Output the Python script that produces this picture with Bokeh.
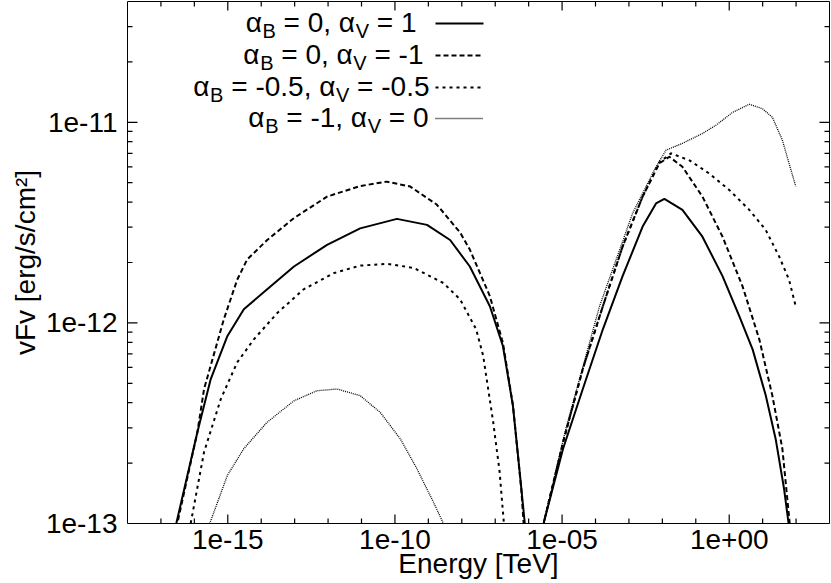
import math
from bokeh.plotting import figure
from bokeh.models import Label, Range1d, CustomJSTickFormatter, FixedTicker
from bokeh.embed import file_html
from bokeh.resources import INLINE

# ---------------- data ----------------
# alpha_B = 0, alpha_V = 1  (solid)
solid_low_e = [2.09e-17, 2.88e-17, 1.23e-16, 3.09e-16, 9.77e-16, 3.02e-15, 1.51e-14, 9.55e-14,
               9.33e-13, 9.12e-12, 1.15e-10, 9.12e-10, 4.47e-9, 1.74e-8, 6.92e-8, 1.70e-7,
               3.39e-7, 5.37e-7, 7.59e-7, 8.32e-7]
solid_low_f = [7.94e-14, 1.00e-13, 2.85e-13, 5.25e-13, 8.61e-13, 1.17e-12, 1.47e-12, 1.91e-12,
               2.45e-12, 2.96e-12, 3.30e-12, 3.08e-12, 2.59e-12, 1.91e-12, 1.21e-12, 7.67e-13,
               3.86e-13, 1.82e-13, 1.02e-13, 7.94e-14]
solid_high_e = [2.51e-6, 2.88e-6, 1.07e-5, 4.17e-5, 1.66e-4, 6.46e-4, 2.57e-3, 6.46e-3, 1.15e-2,
                3.98e-2, 0.158, 0.631, 2.00, 5.01, 12.3, 24.5, 43.7, 58.9, 63.1]
solid_high_f = [7.94e-14, 1.02e-13, 2.36e-13, 4.68e-13, 9.29e-13, 1.71e-12, 3.02e-12, 3.94e-12,
                4.15e-12, 3.66e-12, 2.69e-12, 1.71e-12, 1.08e-12, 7.38e-13, 4.37e-13, 2.64e-13,
                1.49e-13, 1.02e-13, 7.94e-14]

# alpha_B = 0, alpha_V = -1  (dashed)
dash_low_e = [2.24e-17, 3.09e-17, 1.23e-16, 1.95e-16, 7.59e-16, 1.91e-15, 3.80e-15, 1.51e-14,
              9.55e-14, 9.33e-13, 9.12e-12, 5.75e-11, 2.88e-10, 1.78e-9, 8.91e-9, 1.74e-8,
              6.92e-8, 1.70e-7, 3.39e-7, 6.03e-7, 7.08e-7, 7.59e-7]
dash_low_f = [7.94e-14, 1.00e-13, 2.85e-13, 4.68e-13, 1.04e-12, 1.64e-12, 2.07e-12, 2.59e-12,
              3.33e-12, 4.26e-12, 4.81e-12, 5.06e-12, 4.78e-12, 3.89e-12, 2.82e-12, 2.32e-12,
              1.36e-12, 7.94e-13, 3.89e-13, 1.48e-13, 1.00e-13, 7.94e-14]
dash_high_e = [2.51e-6, 2.88e-6, 1.07e-5, 4.17e-5, 1.66e-4, 6.46e-4, 2.57e-3, 8.13e-3, 1.62e-2,
               3.98e-2, 0.158, 0.631, 2.51, 7.94, 19.5, 38.9, 64.6, 69.2]
dash_high_f = [7.94e-14, 1.02e-13, 2.54e-13, 5.89e-13, 1.21e-12, 2.40e-12, 4.26e-12, 6.24e-12,
               6.73e-12, 6.00e-12, 4.26e-12, 2.69e-12, 1.52e-12, 8.28e-13, 4.34e-13, 2.36e-13,
               1.00e-13, 7.94e-14]

# alpha_B = -0.5, alpha_V = -0.5  (dotted)
dot_low_e = [5.62e-17, 7.76e-17, 1.95e-16, 6.17e-16, 1.91e-15, 6.03e-15, 3.02e-14, 1.86e-13,
             1.48e-12, 9.12e-12, 5.75e-11, 3.63e-10, 2.82e-9, 8.91e-9, 2.69e-8, 4.37e-8,
             8.71e-8, 1.35e-7, 1.82e-7, 1.95e-7]
dot_low_f = [7.94e-14, 1.00e-13, 2.27e-13, 4.17e-13, 6.35e-13, 8.28e-13, 1.12e-12, 1.47e-12,
             1.77e-12, 1.93e-12, 1.97e-12, 1.88e-12, 1.58e-12, 1.31e-12, 9.29e-13, 6.84e-13,
             3.20e-13, 1.82e-13, 1.00e-13, 7.94e-14]
dot_high_e = [2.51e-6, 2.88e-6, 1.07e-5, 4.17e-5, 1.66e-4, 6.46e-4, 2.57e-3, 8.13e-3, 1.82e-2,
              6.46e-2, 0.251, 1.00, 3.98, 12.3, 30.9, 61.7, 97.7]
dot_high_f = [7.94e-14, 1.02e-13, 2.54e-13, 5.89e-13, 1.21e-12, 2.40e-12, 4.26e-12, 6.31e-12,
              7.00e-12, 6.46e-12, 5.56e-12, 4.60e-12, 3.66e-12, 2.91e-12, 2.15e-12, 1.64e-12,
              1.21e-12]

# alpha_B = -1, alpha_V = 0  (fine dotted)
fine_low_e = [2.51e-16, 2.88e-16, 9.77e-16, 3.02e-15, 1.51e-14, 9.55e-14, 4.68e-13, 1.86e-12,
              9.12e-12, 3.63e-11, 1.45e-10, 4.57e-10, 1.41e-9, 2.82e-9, 3.55e-9]
fine_low_f = [7.94e-14, 1.00e-13, 1.74e-13, 2.36e-13, 3.20e-13, 4.09e-13, 4.59e-13, 4.68e-13,
              4.34e-13, 3.58e-13, 2.64e-13, 1.87e-13, 1.28e-13, 1.00e-13, 7.94e-14]
fine_high_e = [2.51e-6, 2.88e-6, 1.32e-5, 1.32e-4, 1.29e-3, 6.46e-3, 1.29e-2, 3.98e-2, 0.158,
               0.398, 1.26, 3.98, 9.77, 19.5, 38.9, 61.7, 97.7]
fine_high_f = [7.94e-14, 1.02e-13, 3.00e-13, 1.21e-12, 3.52e-12, 6.00e-12, 7.26e-12, 7.85e-12,
               8.79e-12, 9.66e-12, 1.12e-11, 1.23e-11, 1.17e-11, 1.06e-11, 8.15e-12, 6.24e-12,
               4.79e-12]

# axes
x_range_lim = (1e-18, 1e3)
y_range_lim = (1e-13, 4e-11)
x_major = [1e-15, 1e-10, 1e-05, 1e+00]
x_major_labels = ["1e-15", "1e-10", "1e-05", "1e+00"]
y_major = [1e-13, 1e-12, 1e-11]
y_major_labels = ["1e-13", "1e-12", "1e-11"]
x_minor = [10.0 ** k for k in range(-17, 3)]
y_minor = [m * 10.0 ** k for k in (-13, -12, -11) for m in range(2, 10) if m * 10.0 ** k < 3.9e-11]

legend_b = ["0", "0", "-0.5", "-1"]
legend_v = ["1", "-1", "-0.5", "0"]

# ---------------- figure ----------------
FONT = "Liberation Sans"
W, H = 830, 582
BL, BR, BT, BB = 127, 1, 1, 59
FW, FH = W - BL - BR, H - BT - BB

p = figure(x_axis_type="log", y_axis_type="log",
           x_range=Range1d(*x_range_lim), y_range=Range1d(*y_range_lim),
           width=W, height=H,
           min_border_left=BL, min_border_right=BR, min_border_top=BT, min_border_bottom=BB,
           output_backend="svg", toolbar_location=None)
p.background_fill_color = None
p.border_fill_color = "white"
p.outline_line_color = "black"
p.outline_line_width = 1
p.xgrid.visible = False
p.ygrid.visible = False

LABEL_JS = """
let best = 0, bd = Infinity;
for (let i = 0; i < vals.length; i++) {
  const d = Math.abs(Math.log10(tick) - Math.log10(vals[i]));
  if (d < bd) { bd = d; best = i; }
}
return labs[best];
"""


def style_axis(ax):
    ax.axis_line_color = None
    ax.major_tick_line_color = None
    ax.minor_tick_line_color = None
    ax.major_tick_in = 0
    ax.major_tick_out = 0
    ax.minor_tick_in = 0
    ax.minor_tick_out = 0
    ax.major_label_text_font = FONT
    ax.major_label_text_font_size = "28px"
    ax.major_label_text_color = "black"
    ax.axis_label_text_font = FONT
    ax.axis_label_text_font_size = "28px"
    ax.axis_label_text_font_style = "normal"
    ax.axis_label_text_color = "black"


xa = p.xaxis[0]
xa.ticker = FixedTicker(ticks=x_major, minor_ticks=x_minor)
xa.formatter = CustomJSTickFormatter(args=dict(vals=x_major, labs=x_major_labels), code=LABEL_JS)
style_axis(xa)
xa.axis_label = "Energy [TeV]"
xa.major_label_standoff = 6
xa.axis_label_standoff = -4

ya = p.yaxis[0]
ya.ticker = FixedTicker(ticks=y_major, minor_ticks=y_minor)
ya.formatter = CustomJSTickFormatter(args=dict(vals=y_major, labs=y_major_labels), code=LABEL_JS)
style_axis(ya)
ya.axis_label = "vFv [erg/s/cm\u00b2]"
ya.major_label_standoff = 10
ya.axis_label_standoff = 2

# ---------------- inward ticks on all four sides (gnuplot style) ----------------
lx0, lx1 = math.log10(x_range_lim[0]), math.log10(x_range_lim[1])
ly0, ly1 = math.log10(y_range_lim[0]), math.log10(y_range_lim[1])
fy = lambda px: 10 ** (px * (ly1 - ly0) / FH)   # multiplicative factor for px along y
fx = lambda px: 10 ** (px * (lx1 - lx0) / FW)   # multiplicative factor for px along x
x_minor_only = [t for t in x_minor if all(abs(math.log10(t) - math.log10(m)) > 1e-6 for m in x_major)]
y_minor_only = [t for t in y_minor if all(abs(math.log10(t) - math.log10(m)) > 1e-6 for m in y_major)]
ymin, ymax = y_range_lim
xmin, xmax = x_range_lim
TICK = dict(line_color="black", line_width=1.2)
for ticks, ln in ((x_major, 9), (x_minor_only, 5)):
    p.segment(x0=ticks, y0=[ymin] * len(ticks), x1=ticks, y1=[ymin * fy(ln)] * len(ticks), **TICK)
    p.segment(x0=ticks, y0=[ymax] * len(ticks), x1=ticks, y1=[ymax / fy(ln)] * len(ticks), **TICK)
for ticks, ln in ((y_major, 10), (y_minor_only, 5)):
    p.segment(x0=[xmin] * len(ticks), y0=ticks, x1=[xmin * fx(ln)] * len(ticks), y1=ticks, **TICK)
    p.segment(x0=[xmax] * len(ticks), y0=ticks, x1=[xmax / fx(ln)] * len(ticks), y1=ticks, **TICK)

# ---------------- curves ----------------
styles = [
    dict(line_color="black", line_width=2.0, line_dash="solid"),
    dict(line_color="black", line_width=2.0, line_dash="5 3"),
    dict(line_color="black", line_width=2.0, line_dash="3 4"),
    dict(line_color="black", line_width=1.3, line_dash="1 1"),
]
series = [
    (solid_low_e, solid_low_f, solid_high_e, solid_high_f),
    (dash_low_e, dash_low_f, dash_high_e, dash_high_f),
    (dot_low_e, dot_low_f, dot_high_e, dot_high_f),
    (fine_low_e, fine_low_f, fine_high_e, fine_high_f),
]
for (le, lf, he, hf), st in zip(series, styles):
    p.line(le, lf, line_join="round", **st)
    p.line(he, hf, line_join="round", **st)

# ---------------- legend (manual, with subscripts) ----------------
WID = {" ": 0.278, "=": 0.584, "0": 0.556, "1": 0.556, "5": 0.556, ",": 0.278,
       "-": 0.333, ".": 0.278, "B": 0.667, "V": 0.667, "\u03b1": 0.60}


def text_w(s, size):
    return sum(WID.get(c, 0.556) for c in s) * size


def xdata(px_from_left):
    return 10 ** (lx0 + px_from_left * (lx1 - lx0) / FW)


def ydata(px_from_top):
    return 10 ** (ly1 - px_from_top * (ly1 - ly0) / FH)


MAIN, SUB, SUB_DROP = 28, 20, 5
row_right = [289, 296, 302, 301]     # px from frame left
baselines = [31, 63, 95, 126]        # px from frame top
sample_x0, sample_x1 = 308, 356

for i, (b, v) in enumerate(zip(legend_b, legend_v)):
    segs = [("\u03b1", False), ("B", True), (" = " + b + ", \u03b1", False), ("V", True), (" = " + v, False)]
    xr = row_right[i]
    base = baselines[i]
    for s, sub in reversed(segs):
        size = SUB if sub else MAIN
        xr -= text_w(s, size)
        stripped = s.lstrip(" ")
        lead = text_w(s[:len(s) - len(stripped)], size)
        if sub:
            mid = base + SUB_DROP - 0.345 * size
        else:
            mid = base - 0.345 * size
        p.add_layout(Label(x=xdata(xr + lead), y=ydata(mid), x_units="data", y_units="data",
                           text=stripped, text_font=FONT, text_font_size=f"{size}px",
                           text_color="black", text_align="left", text_baseline="middle"))
    yd = ydata(base - 9)
    p.line([xdata(sample_x0), xdata(sample_x1)], [yd, yd], **styles[i])

open("out.html", "w").write(file_html(p, INLINE))
